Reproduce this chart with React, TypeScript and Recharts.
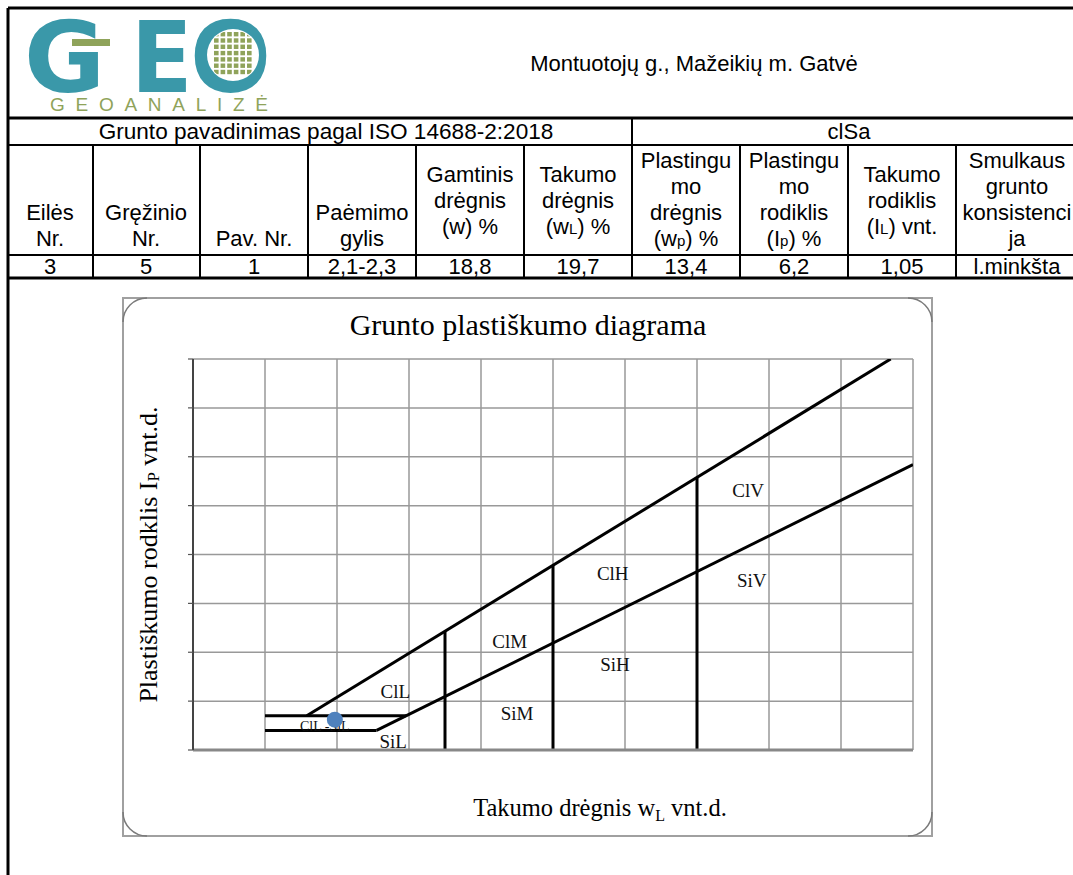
import React from 'react';
import { ComposedChart, Line, Scatter, XAxis, YAxis, CartesianGrid } from 'recharts';

// ---------- data ----------
const xTicks = [0, 10, 20, 30, 40, 50, 60, 70, 80, 90, 100];
const yTicks = [0, 10, 20, 30, 40, 50, 60, 70, 80];

const uLine = [{ x: 15.8, y: 7 }, { x: 96.9, y: 80 }];
const aLine = [{ x: 25.5, y: 4 }, { x: 100, y: 58.4 }];
const band7 = [{ x: 10, y: 7 }, { x: 29.6, y: 7 }];
const band4 = [{ x: 10, y: 4 }, { x: 25.5, y: 4 }];
const divide35 = [{ x: 35, y: 0 }, { x: 35, y: 24.3 }];
const divide50 = [{ x: 50, y: 0 }, { x: 50, y: 37.8 }];
const divide70 = [{ x: 70, y: 0 }, { x: 70, y: 55.8 }];

const smallZoneLabel = [{ x: 18.3, y: 4.9, name: 'ClL -SiL' }];
const zoneLabels = [
  { x: 28.1, y: 11.9, name: 'ClL' },
  { x: 27.8, y: 1.8, name: 'SiL' },
  { x: 44.0, y: 22.3, name: 'ClM' },
  { x: 45.0, y: 7.6, name: 'SiM' },
  { x: 58.3, y: 36.2, name: 'ClH' },
  { x: 58.6, y: 17.6, name: 'SiH' },
  { x: 77.1, y: 53.2, name: 'ClV' },
  { x: 77.6, y: 34.8, name: 'SiV' },
];
const samplePoint = [{ x: 19.7, y: 6.2 }];

const headerTitle = 'Montuotojų g., Mažeikių m. Gatvė';
const classTitle = 'Grunto pavadinimas pagal ISO 14688-2:2018';
const classValue = 'clSa';
const colEdges = [8, 93, 200, 308, 416, 524, 632, 740, 848, 956];
const colCenters = [50, 146, 254, 362, 470, 578, 686, 794, 902, 1017];
const headerLines: { t: string; sub?: string; tail?: string }[][] = [
  [{ t: 'Eilės' }, { t: 'Nr.' }],
  [{ t: 'Gręžinio' }, { t: 'Nr.' }],
  [{ t: 'Pav. Nr.' }],
  [{ t: 'Paėmimo' }, { t: 'gylis' }],
  [{ t: 'Gamtinis' }, { t: 'drėgnis' }, { t: '(w) %' }],
  [{ t: 'Takumo' }, { t: 'drėgnis' }, { t: '(w', sub: 'L', tail: ') %' }],
  [{ t: 'Plastingu' }, { t: 'mo' }, { t: 'drėgnis' }, { t: '(w', sub: 'p', tail: ') %' }],
  [{ t: 'Plastingu' }, { t: 'mo' }, { t: 'rodiklis' }, { t: '(I', sub: 'p', tail: ') %' }],
  [{ t: 'Takumo' }, { t: 'rodiklis' }, { t: '(I', sub: 'L', tail: ') vnt.' }],
  [{ t: 'Smulkaus' }, { t: 'grunto' }, { t: 'konsistenci' }, { t: 'ja' }],
];
const rowValues = ['3', '5', '1', '2,1-2,3', '18,8', '19,7', '13,4', '6,2', '1,05', 'l.minkšta'];

const chartTitle = 'Grunto plastiškumo diagrama';
const xLabelMain = 'Takumo drėgnis w';
const xLabelSub = 'L';
const xLabelTail = ' vnt.d.';
const yLabelMain = 'Plastiškumo rodklis I';
const yLabelSub = 'P';
const yLabelTail = ' vnt.d.';

// ---------- styles ----------
const SANS = '"Liberation Sans", Arial, sans-serif';
const SERIF = '"Liberation Serif", "Times New Roman", serif';
const LOGOFONT = '"DejaVu Sans", sans-serif';
const TEAL = '#3a98a9';
const OLIVE = '#8fa35a';

function headerBaselines(n: number): number[] {
  if (n === 4) return [168, 194, 220, 246];
  if (n === 3) return [182, 208, 234];
  if (n === 2) return [220, 246];
  return [246];
}

const Logo = () => {
  const squares: React.ReactNode[] = [];
  for (let r = 0; r < 7; r++) {
    for (let c = 0; c < 6; c++) {
      squares.push(
        <rect key={`${r}-${c}`} x={214 + c * 6.6} y={32 + r * 6.3} width={4.6} height={4.4} fill={OLIVE} />
      );
    }
  }
  return (
    <g>
      <text transform="translate(24 92) scale(1.1 1.08)" fontFamily={LOGOFONT} fontWeight="bold" fontSize={90} fill={TEAL}>G</text>
      <text transform="translate(131 92) scale(1.0 1.08)" fontFamily={LOGOFONT} fontWeight="bold" fontSize={90} fill={TEAL}>E</text>
      <text transform="translate(190 92) scale(1.06 1.08)" fontFamily={LOGOFONT} fontWeight="bold" fontSize={90} fill={TEAL}>O</text>
      <rect x={72} y={39} width={38} height={7} fill={OLIVE} />
      <clipPath id="oclip">
        <circle cx={233} cy={55} r={25} />
      </clipPath>
      <circle cx={233} cy={55} r={26} fill="#fff" />
      <g clipPath="url(#oclip)">{squares}</g>
      <text x={50} y={111} fontFamily={SANS} fontSize={19} fill={OLIVE} textLength={218} lengthAdjust="spacing">GEOANALIZĖ</text>
    </g>
  );
};

const Page = () => (
  <svg width={1073} height={875} style={{ position: 'absolute', left: 0, top: 0 }}>
    <line x1={8} y1={8} x2={8} y2={875} stroke="#000" strokeWidth={3} />
    <line x1={8} y1={8} x2={1073} y2={8} stroke="#000" strokeWidth={3} />
    <line x1={8} y1={118} x2={1073} y2={118} stroke="#000" strokeWidth={3} />
    <line x1={8} y1={145} x2={1073} y2={145} stroke="#000" strokeWidth={2} />
    <line x1={8} y1={255} x2={1073} y2={255} stroke="#000" strokeWidth={2} />
    <line x1={8} y1={278} x2={1073} y2={278} stroke="#000" strokeWidth={3} />
    <line x1={632} y1={118} x2={632} y2={145} stroke="#000" strokeWidth={2} />
    {colEdges.slice(1).map((x) => (
      <line key={x} x1={x} y1={145} x2={x} y2={278} stroke="#000" strokeWidth={2} />
    ))}
    <Logo />
    <text x={694} y={71} textAnchor="middle" fontFamily={SANS} fontSize={22} fill="#000">{headerTitle}</text>
    <text x={326} y={139} textAnchor="middle" fontFamily={SANS} fontSize={22.6} fill="#000">{classTitle}</text>
    <text x={849} y={139} textAnchor="middle" fontFamily={SANS} fontSize={22} fill="#000">{classValue}</text>
    {headerLines.map((lines, ci) => {
      const bl = headerBaselines(lines.length);
      return lines.map((ln, li) => (
        <text key={`${ci}-${li}`} x={colCenters[ci]} y={bl[li]} textAnchor="middle" fontFamily={SANS} fontSize={22} fill="#000">
          {ln.t}
          {ln.sub ? <tspan fontSize={15}>{ln.sub}</tspan> : null}
          {ln.tail ? <tspan>{ln.tail}</tspan> : null}
        </text>
      ));
    })}
    {rowValues.map((v, i) => (
      <text key={i} x={colCenters[i]} y={274} textAnchor="middle" fontFamily={SANS} fontSize={22} fill="#000">{v}</text>
    ))}
    <rect x={123} y={298} width={809} height={538} fill="#fff" stroke="#a0a0a0" strokeWidth={2} />
    <path d="M123 322 A24 24 0 0 1 147 298 M123 812 A24 24 0 0 0 147 836 M908 836 A24 24 0 0 0 932 812 M908 298 A24 24 0 0 1 932 322" fill="none" stroke="#7a7a7a" strokeWidth={1.5} />
    <text x={528} y={335} textAnchor="middle" fontFamily={SERIF} fontSize={30} fill="#000">{chartTitle}</text>
  </svg>
);

const ZoneText = (size: number) => (props: any) => {
  const { cx, cy, payload } = props;
  return (
    <text x={cx} y={cy} dy={size * 0.35} textAnchor="middle" fontFamily={SERIF} fontSize={size} fill="#111">
      {payload.name}
    </text>
  );
};

const Dot = (props: any) => <circle cx={props.cx} cy={props.cy} r={8} fill="#4f81bd" />;

const EmptyTick = () => <g />;

const lineProps = {
  dataKey: 'y',
  type: 'linear' as const,
  stroke: '#000',
  strokeWidth: 3,
  dot: false,
  activeDot: false,
  isAnimationActive: false,
  legendType: 'none' as const,
};

const YLabel = (props: any) => {
  const vb = props.viewBox || {};
  const x = (vb.x ?? 0) + 25;
  const y = (vb.y ?? 0) + (vb.height ?? 0) / 2;
  return (
    <text x={x} y={y} transform={`rotate(-90 ${x} ${y})`} textAnchor="middle" dominantBaseline="central" fontFamily={SERIF} fontSize={26} fill="#000">
      {yLabelMain}
      <tspan fontSize={17} dy={5}>{yLabelSub}</tspan>
      <tspan dy={-5}>{yLabelTail}</tspan>
    </text>
  );
};

const XLabel = (props: any) => {
  const vb = props.viewBox || {};
  const x = (vb.x ?? 0) + (vb.width ?? 0) / 2 + 47;
  const y = (vb.y ?? 0) + 66;
  return (
    <text x={x} y={y} textAnchor="middle" fontFamily={SERIF} fontSize={24.5} fill="#000">
      {xLabelMain}
      <tspan fontSize={16} dy={5}>{xLabelSub}</tspan>
      <tspan dy={-5}>{xLabelTail}</tspan>
    </text>
  );
};

export default function App() {
  return (
    <div style={{ position: 'absolute', left: 0, top: 0, width: 1073, height: 875, background: '#fff' }}>
      <Page />
      <div style={{ position: 'absolute', left: 123, top: 298 }}>
        <ComposedChart width={810} height={538} margin={{ top: 61, right: 20, left: 0, bottom: 0 }}>
          <CartesianGrid stroke="#999999" strokeWidth={1.5} />
          <XAxis
            type="number"
            dataKey="x"
            domain={[0, 100]}
            ticks={xTicks}
            interval={0}
            allowDataOverflow
            height={86}
            tick={EmptyTick}
            tickLine={false}
            axisLine={{ stroke: '#888888', strokeWidth: 3 }}
            label={{ content: XLabel }}
          />
          <YAxis
            type="number"
            dataKey="y"
            domain={[0, 80]}
            ticks={yTicks}
            interval={0}
            allowDataOverflow
            width={70}
            tick={EmptyTick}
            tickSize={5}
            tickLine={{ stroke: '#555', strokeWidth: 1.2 }}
            axisLine={{ stroke: '#444', strokeWidth: 2 }}
            label={{ content: YLabel }}
          />
          <Line {...lineProps} data={uLine} />
          <Line {...lineProps} data={aLine} />
          <Line {...lineProps} data={band7} />
          <Line {...lineProps} data={band4} />
          <Line {...lineProps} data={divide35} />
          <Line {...lineProps} data={divide50} />
          <Line {...lineProps} data={divide70} />
          <Scatter data={zoneLabels} shape={ZoneText(19)} isAnimationActive={false} />
          <Scatter data={smallZoneLabel} shape={ZoneText(14)} isAnimationActive={false} />
          <Scatter data={samplePoint} shape={Dot} isAnimationActive={false} />
        </ComposedChart>
      </div>
    </div>
  );
}
